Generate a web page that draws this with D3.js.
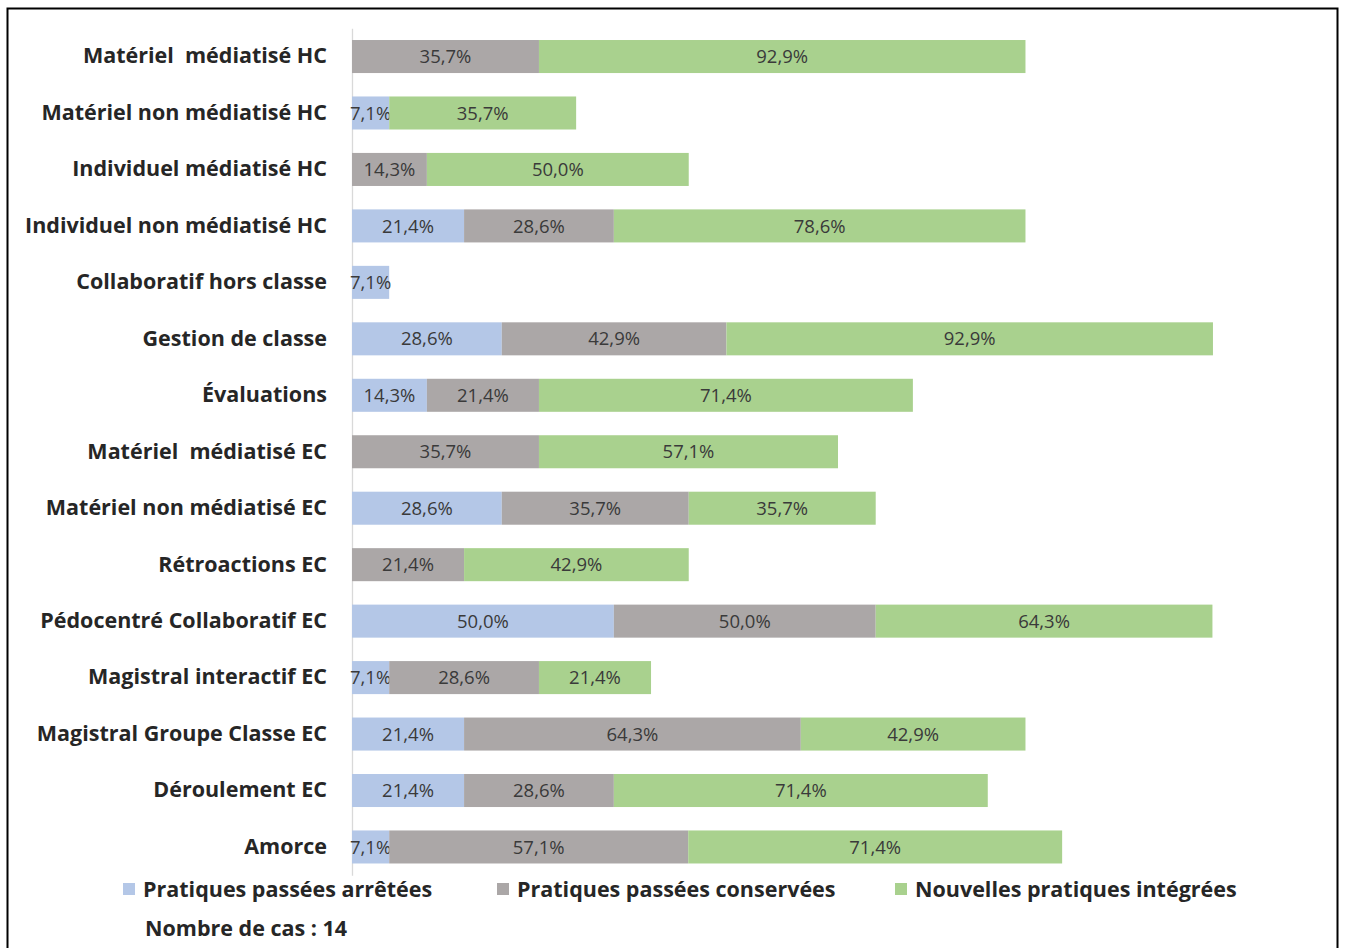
<!DOCTYPE html>
<html><head><meta charset="utf-8">
<script src="https://cdn.jsdelivr.net/npm/d3@7"></script>
<style>body{margin:0;background:#fff}svg{display:block}</style>
</head><body>
<script>
const categories = ["Matériel  médiatisé HC","Matériel non médiatisé HC","Individuel médiatisé HC","Individuel non médiatisé HC","Collaboratif hors classe","Gestion de classe","Évaluations","Matériel  médiatisé EC","Matériel non médiatisé EC","Rétroactions EC","Pédocentré Collaboratif EC","Magistral interactif EC","Magistral Groupe Classe EC","Déroulement EC","Amorce"];
const seriesNames = ["Pratiques passées arrêtées","Pratiques passées conservées","Nouvelles pratiques intégrées"];
const arretees =   [0,   7.1, 0,    21.4, 7.1, 28.6, 14.3, 0,    28.6, 0,    50.0, 7.1,  21.4, 21.4, 7.1];
const conservees = [35.7, 0,  14.3, 28.6, 0,   42.9, 21.4, 35.7, 35.7, 21.4, 50.0, 28.6, 64.3, 28.6, 57.1];
const nouvelles =  [92.9, 35.7, 50.0, 78.6, 0, 92.9, 71.4, 57.1, 35.7, 42.9, 64.3, 21.4, 42.9, 71.4, 71.4];
const colors = ["#b4c7e7","#aba7a7","#a9d18e"];
const note = "Nombre de cas : 14";

const W=1345,H=948;
const svg=d3.select("body").append("svg").attr("width",W).attr("height",H);
svg.append("rect").attr("width",W).attr("height",H).attr("fill","#fff");
svg.append("rect").attr("x",7.5).attr("y",8.5).attr("width",1330).attr("height",950)
  .attr("fill","none").attr("stroke","#000").attr("stroke-width",2);

const rows=categories.map((c,i)=>({cat:c,vals:[arretees[i],conservees[i],nouvelles[i]]}));
const maxTot=d3.max(rows,r=>d3.sum(r.vals));
const x=d3.scaleLinear().domain([0,maxTot]).range([352,352+maxTot*5.237]);
const y=d3.scaleBand().domain(categories).range([28.3,875.2]).paddingInner(0.415).paddingOuter(0.2075);

const font="'Open Sans', sans-serif";
const ax=svg.append("g").attr("transform","translate(352,0)")
  .call(d3.axisLeft(y).tickSize(0).tickPadding(25));
ax.select(".domain").attr("stroke","#d9d9d9").attr("stroke-width",1.3);
ax.selectAll("text").attr("font-family",font).attr("font-size",21.5).attr("font-weight","bold")
  .attr("fill","#262626").style("white-space","pre");

rows.forEach(r=>{
  let acc=0;
  r.vals.forEach((v,k)=>{
    if(v>0){
      const g=svg.append("g");
      g.append("rect").attr("x",x(acc)).attr("y",y(r.cat)).attr("width",x(acc+v)-x(acc))
        .attr("height",y.bandwidth()).attr("fill",colors[k]);
      g.append("text").attr("x",(x(acc)+x(acc+v))/2).attr("y",y(r.cat)+y.bandwidth()/2)
        .attr("dy","0.36em").attr("text-anchor","middle").attr("font-family",font)
        .attr("font-size",18.5).attr("fill","#3a3a3a")
        .text(v.toFixed(1).replace(".",",")+"%");
    }
    acc+=v;
  });
});

const legX=[123,497,895];
seriesNames.forEach((s,k)=>{
  svg.append("rect").attr("x",legX[k]).attr("y",883).attr("width",12).attr("height",12).attr("fill",colors[k]);
  svg.append("text").attr("x",legX[k]+20).attr("y",889).attr("dy","0.36em")
    .attr("font-family",font).attr("font-size",21.5).attr("font-weight","bold").attr("fill","#262626").text(s);
});
svg.append("text").attr("x",145).attr("y",928).attr("dy","0.36em")
  .attr("font-family",font).attr("font-size",21.5).attr("font-weight","bold").attr("fill","#262626").text(note);
</script>
</body></html>
